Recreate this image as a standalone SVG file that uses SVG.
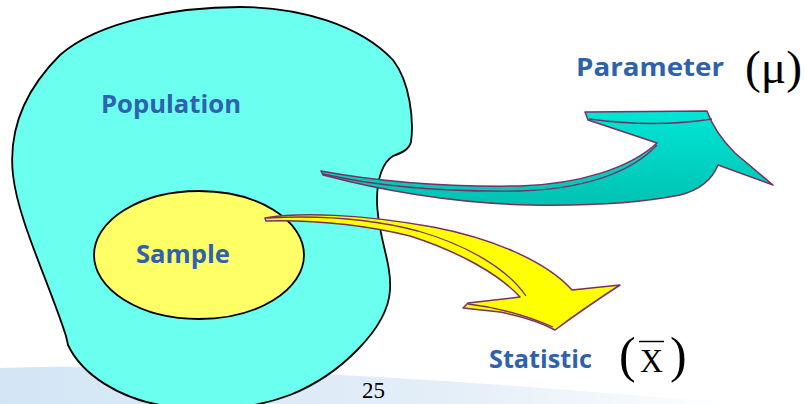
<svg xmlns="http://www.w3.org/2000/svg" width="806" height="404" viewBox="0 0 806 404">
  <style>
    .lbl { font-family: "Open Sans", "Liberation Sans", sans-serif; font-weight: bold; font-size: 25px; fill: #2f62ad; }
    .sym { font-family: "Liberation Serif", "Times New Roman", serif; fill: #000; }
    .edge { stroke: #7a2f62; stroke-width: 1.5; stroke-linejoin: round; }
    .fold { fill: none; stroke: #7a2f62; stroke-width: 1.3; }
    .outline { stroke: #000; stroke-width: 1.8; }
  </style>
  <defs>
    <linearGradient id="teal" x1="0" y1="0" x2="0" y2="1">
      <stop offset="0" stop-color="#00e6d6"/>
      <stop offset="1" stop-color="#00c2b2"/>
    </linearGradient>
    <linearGradient id="band" x1="0" y1="0" x2="1" y2="0">
      <stop offset="0" stop-color="#d3e5f5"/>
      <stop offset="0.6" stop-color="#e3eef8"/>
      <stop offset="1" stop-color="#ffffff"/>
    </linearGradient>
  </defs>
  <rect width="806" height="404" fill="#ffffff"/>
  <path d="M0,368 C200,362 460,380 740,404 L0,404 Z" fill="url(#band)"/>

  <g id="population">
    <path class="outline" fill="#6bffef" d="M240,7 C300,7 360,25 393,60 C410,82 414,120 411,142 C409,150 401,153 393,156 C383,162 377,178 377,200 C377,235 392,262 390,290 C388,328 340,375 290,395 C250,410 200,414 160,405 C120,398 82,375 68,345 L66,336 C48,280 18,220 13,175 C8,130 25,90 60,55 C100,20 180,7 240,7 Z"/>
    <text class="lbl" x="101" y="113" textLength="140" lengthAdjust="spacingAndGlyphs">Population</text>
  </g>

  <g id="sample">
    <ellipse class="outline" fill="#ffff66" cx="199" cy="255" rx="105" ry="64"/>
    <text class="lbl" x="136" y="263" textLength="94" lengthAdjust="spacingAndGlyphs">Sample</text>
  </g>

  <g id="connectors">
    <g id="arrow-parameter">
      <path class="edge" fill="url(#teal)" d="M321,171 C380,182 450,187 520,186 C580,184 630,168 657,143 L588,120 L585,112 L707,111 C712,125 722,140 735,153 L773,185 L718,165 C712,180 700,190 680,195 C640,203 590,206 530,205 C450,203 380,190 323,175 Z"/>
      <path class="fold" d="M323,174 C380,187 450,192 520,191 C585,189 632,172 657,145"/>
      <path class="fold" d="M589,119 Q655,128 712,119"/>
    </g>
    <g id="arrow-statistic">
      <path class="edge" fill="#ffff00" d="M265,218 C300,212 360,214 433,227 C490,238 545,260 572,290 L620,285 C600,298 575,315 555,330 C540,322 520,316 500,312 L463,308 L468,303 L520,297 C500,275 460,252 410,236 C360,224 310,220 266,221 Z"/>
      <path class="fold" d="M267,218 C320,215 372,219 418,231 C470,246 508,270 526,296"/>
      <path class="fold" d="M468,304 C495,307 525,315 553,327"/>
    </g>
  </g>

  <g id="parameter">
    <text class="lbl" x="576" y="76" textLength="148" lengthAdjust="spacingAndGlyphs">Parameter</text>
    <text class="sym" x="745" y="83" font-size="47" textLength="57" lengthAdjust="spacingAndGlyphs">(μ)</text>
  </g>

  <g id="statistic">
    <text class="lbl" x="489" y="368" textLength="103" lengthAdjust="spacingAndGlyphs">Statistic</text>
    <text class="sym" x="619" y="372" font-size="50">(</text>
    <text class="sym" x="640" y="372" font-size="33" textLength="23" lengthAdjust="spacingAndGlyphs">X</text>
    <line x1="639" y1="341.5" x2="664" y2="341.5" stroke="#000" stroke-width="1.5"/>
    <text class="sym" x="670" y="372" font-size="50">)</text>
  </g>

  <text class="sym" x="362" y="398" font-size="23">25</text>
</svg>
